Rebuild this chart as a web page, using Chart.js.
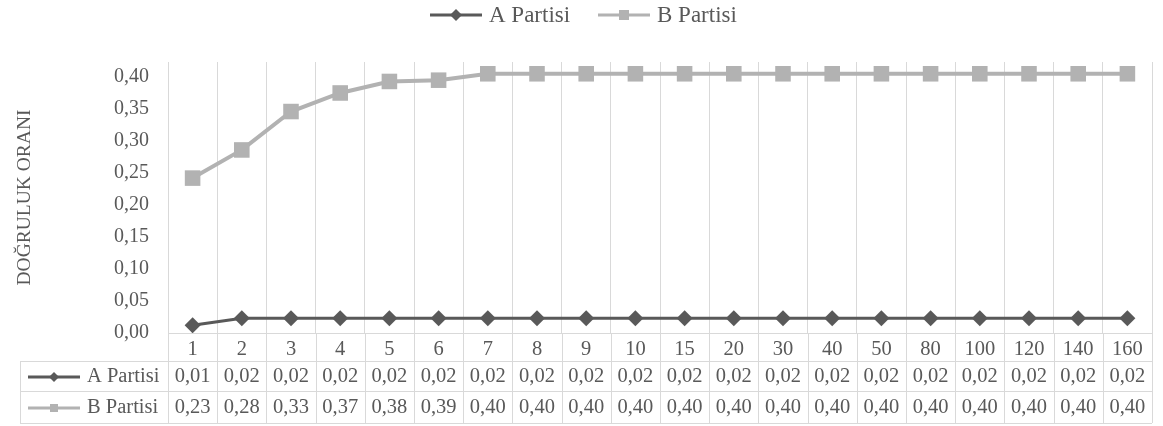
<!DOCTYPE html>
<html>
<head>
<meta charset="utf-8">
<script src="https://cdn.jsdelivr.net/npm/chart.js@4.4.0/dist/chart.umd.min.js"></script>
<style>
  html, body { margin: 0; padding: 0; background: #fff; }
  #wrap { width: 1163px; height: 426px; position: relative; }
</style>
</head>
<body>
<div id="wrap"><canvas id="chart"></canvas></div>
<script>
const categories = ['1', '2', '3', '4', '5', '6', '7', '8', '9', '10', '15', '20', '30', '40', '50', '80', '100', '120', '140', '160'];

// plotted values
const seriesA = [0.012, 0.023, 0.023, 0.023, 0.023, 0.023, 0.023, 0.023, 0.023, 0.023,
                 0.023, 0.023, 0.023, 0.023, 0.023, 0.023, 0.023, 0.023, 0.023, 0.023];
const seriesB = [0.242, 0.286, 0.346, 0.375, 0.393, 0.395, 0.405, 0.405, 0.405, 0.405,
                 0.405, 0.405, 0.405, 0.405, 0.405, 0.405, 0.405, 0.405, 0.405, 0.405];

// values as printed in the data table
const tableA = ['0,01', '0,02', '0,02', '0,02', '0,02', '0,02', '0,02', '0,02', '0,02', '0,02',
                '0,02', '0,02', '0,02', '0,02', '0,02', '0,02', '0,02', '0,02', '0,02', '0,02'];
const tableB = ['0,23', '0,28', '0,33', '0,37', '0,38', '0,39', '0,40', '0,40', '0,40', '0,40',
                '0,40', '0,40', '0,40', '0,40', '0,40', '0,40', '0,40', '0,40', '0,40', '0,40'];

const yTicks = [0, 0.05, 0.10, 0.15, 0.20, 0.25, 0.30, 0.35, 0.40];

const seriesNames = ['A Partisi', 'B Partisi'];
const yTitle = 'DOĞRULUK ORANI';

const colA = '#595959';
const colB = '#b2b2b2';
const gridCol = '#d9d9d9';
const textCol = '#595959';
const FONT = "'Liberation Serif', 'Times New Roman', 'DejaVu Serif', serif";
const FS = 20.5;

function diamond(ctx, x, y, r, col) {
    ctx.beginPath();
    ctx.moveTo(x - r, y);
    ctx.lineTo(x, y - r);
    ctx.lineTo(x + r, y);
    ctx.lineTo(x, y + r);
    ctx.closePath();
    ctx.fillStyle = col;
    ctx.fill();
}

function square(ctx, x, y, h, col) {
    ctx.fillStyle = col;
    ctx.fillRect(x - h, y - h, 2 * h, 2 * h);
}

function keyLine(ctx, x0, x1, y, col, w) {
    ctx.beginPath();
    ctx.moveTo(x0, y);
    ctx.lineTo(x1, y);
    ctx.strokeStyle = col;
    ctx.lineWidth = w;
    ctx.stroke();
}

const tablePlugin = {
    id: 'dataTable',
    afterDraw(chart) {
        const ctx = chart.ctx;
        const xs = chart.scales.x;
        const area = chart.chartArea;
        const n = categories.length;
        const half = (xs.getPixelForValue(1) - xs.getPixelForValue(0)) / 2;
        const rowTops = [area.bottom, 361, 391, 423];
        const keyLeft = 20;

        ctx.save();
        ctx.strokeStyle = gridCol;
        ctx.lineWidth = 1;
        // horizontal rules
        for (let r = 1; r < rowTops.length; r++) {
            ctx.beginPath();
            ctx.moveTo(keyLeft, rowTops[r] + 0.5);
            ctx.lineTo(area.right, rowTops[r] + 0.5);
            ctx.stroke();
        }
        // vertical rules continuing the category grid
        for (let i = 0; i <= n; i++) {
            const x = Math.round(xs.getPixelForValue(0) - half + i * 2 * half) + 0.5;
            ctx.beginPath();
            ctx.moveTo(x, area.bottom);
            ctx.lineTo(x, rowTops[3]);
            ctx.stroke();
        }
        ctx.beginPath();
        ctx.moveTo(keyLeft + 0.5, rowTops[1]);
        ctx.lineTo(keyLeft + 0.5, rowTops[3]);
        ctx.stroke();

        // table values
        ctx.font = FS + 'px ' + FONT;
        ctx.fillStyle = textCol;
        ctx.textAlign = 'center';
        ctx.textBaseline = 'middle';
        const yA = 377, yB = 408;
        for (let i = 0; i < n; i++) {
            const cx = xs.getPixelForValue(i);
            ctx.fillText(tableA[i], cx, yA);
            ctx.fillText(tableB[i], cx, yB);
        }

        // row keys
        keyLine(ctx, 28, 80, yA, colA, 3);
        diamond(ctx, 54, yA, 5, colA);
        keyLine(ctx, 28, 80, yB, colB, 3);
        square(ctx, 54, yB, 4, colB);
        ctx.textAlign = 'left';
        ctx.fillStyle = textCol;
        ctx.fillText(seriesNames[0], 87, yA);
        ctx.fillText(seriesNames[1], 87, yB);

        // legend on top
        const ly = 15;
        keyLine(ctx, 430, 482, ly, colA, 3);
        diamond(ctx, 456, ly, 6, colA);
        keyLine(ctx, 598, 650, ly, colB, 3);
        square(ctx, 624, ly, 5, colB);
        ctx.font = '23px ' + FONT;
        ctx.fillStyle = textCol;
        ctx.fillText(seriesNames[0], 489, ly + 1);
        ctx.fillText(seriesNames[1], 657, ly + 1);
        ctx.restore();
    }
};

new Chart(document.getElementById('chart'), {
    type: 'line',
    data: {
        labels: categories,
        datasets: [
            {
                label: seriesNames[0],
                data: seriesA,
                borderColor: colA,
                backgroundColor: colA,
                borderWidth: 3,
                pointStyle: 'rectRot',
                pointRadius: 8,
                pointBorderWidth: 0,
                tension: 0
            },
            {
                label: seriesNames[1],
                data: seriesB,
                borderColor: colB,
                backgroundColor: colB,
                borderWidth: 4,
                pointStyle: 'rect',
                pointRadius: 11,
                pointBorderWidth: 0,
                tension: 0
            }
        ]
    },
    options: {
        responsive: true,
        maintainAspectRatio: false,
        animation: false,
        layout: { padding: { left: 0, right: 7, top: 62, bottom: 65 } },
        plugins: {
            legend: { display: false },
            tooltip: { enabled: false }
        },
        scales: {
            x: {
                offset: true,
                grid: { offset: true, color: gridCol, lineWidth: 1, drawTicks: false },
                border: { display: true, color: gridCol },
                ticks: {
                    color: textCol,
                    font: { family: FONT, size: FS },
                    padding: 4,
                    maxRotation: 0,
                    autoSkip: false
                },
                afterFit(s) { s.height = 28; }
            },
            y: {
                min: 0,
                max: 0.4234,
                grid: { display: false, drawTicks: false },
                border: { display: false },
                ticks: {
                    color: textCol,
                    font: { family: FONT, size: 20 },
                    padding: 19,
                    callback: v => v.toFixed(2).replace('.', ',')
                },
                afterBuildTicks(s) { s.ticks = yTicks.map(v => ({ value: v })); },
                title: {
                    display: true,
                    text: yTitle,
                    color: textCol,
                    font: { family: FONT, size: 19.5 },
                    padding: { top: 13, bottom: 0 }
                },
                afterFit(s) { s.width = 168; }
            }
        }
    },
    plugins: [tablePlugin]
});
</script>
</body>
</html>
